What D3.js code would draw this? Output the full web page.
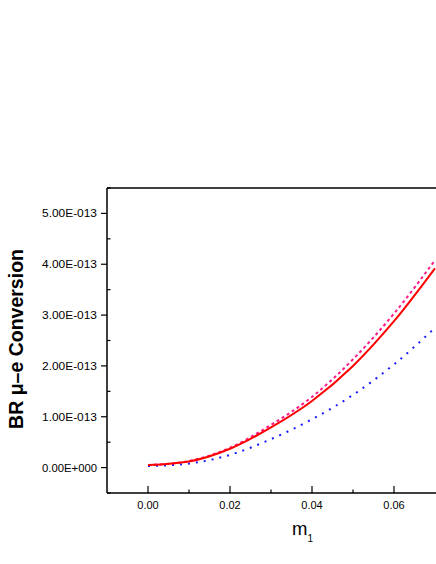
<!DOCTYPE html>
<html><head><meta charset="utf-8">
<script src="https://cdn.jsdelivr.net/npm/d3@7"></script>
<style>body{margin:0;background:#fff}svg{display:block}text{font-family:"Liberation Sans",Arial,sans-serif}</style>
</head><body><svg id="c" width="436" height="564"></svg>
<script>
const mValues = [0.00, 0.01, 0.02, 0.03, 0.04, 0.05, 0.06, 0.07];
const redSolid = [0.05, 0.12, 0.37, 0.79, 1.31, 2.00, 2.88, 3.92];   // x1e-13
const pinkDash = [0.05, 0.13, 0.39, 0.84, 1.39, 2.13, 3.03, 4.08];
const blueDot  = [0.03, 0.08, 0.25, 0.56, 0.95, 1.43, 2.03, 2.75];
const xTicks = [0.00, 0.02, 0.04, 0.06];
const xMinor = [0.01, 0.03, 0.05];
const yTicks = [0, 1, 2, 3, 4, 5];
const yTickLabels = ["0.00E+000","1.00E-013","2.00E-013","3.00E-013","4.00E-013","5.00E-013"];
const yMinor = [-0.5, 0.5, 1.5, 2.5, 3.5, 4.5, 5.5];

const svg = d3.select("#c");
const L = 107, T = 188, B = 493;
const x = d3.scaleLinear().domain([-0.01, 0.08]).range([L, L + 4100 * 0.09]);
const y = d3.scaleLinear().domain([-0.5, 5.5]).range([B, T]);

const g = svg.append("g");
svg.append("clipPath").attr("id","cp").append("rect").attr("x",L).attr("y",T).attr("width",436-L).attr("height",B-T);
const line = d3.line().x((d,i)=>x(mValues[i])).y(d=>y(d)).curve(d3.curveMonotoneX);
const series = [
  {v: blueDot, c: "#1a1aff", dash: "2,6", w: 2},
  {v: pinkDash, c: "#ff1a8c", dash: "3,3", w: 2},
  {v: redSolid, c: "#ff0000", dash: null, w: 2}
];
series.forEach(s=>{
  g.append("path").attr("d", line(s.v)).attr("fill","none").attr("stroke",s.c)
   .attr("stroke-width",s.w).attr("stroke-dasharray",s.dash).attr("clip-path","url(#cp)");
});

// frame
svg.append("line").attr("x1",L).attr("x2",436).attr("y1",T).attr("y2",T).attr("stroke","#000").attr("stroke-width",1.5);
svg.append("line").attr("x1",L).attr("x2",L).attr("y1",T).attr("y2",B).attr("stroke","#000").attr("stroke-width",1.5);
svg.append("line").attr("x1",L).attr("x2",436).attr("y1",B).attr("y2",B).attr("stroke","#000").attr("stroke-width",1.5);

// x ticks (inward)
xTicks.forEach(t=>{
  svg.append("line").attr("x1",x(t)).attr("x2",x(t)).attr("y1",B).attr("y2",B-7).attr("stroke","#000").attr("stroke-width",1.2);
  svg.append("text").attr("x",x(t)).attr("y",509).attr("text-anchor","middle").attr("font-size","11px").text(d3.format(".2f")(t));
});
xMinor.forEach(t=>{
  svg.append("line").attr("x1",x(t)).attr("x2",x(t)).attr("y1",B).attr("y2",B-3.5).attr("stroke","#000").attr("stroke-width",1.2);
});
// y ticks
yTicks.forEach((t,i)=>{
  svg.append("line").attr("x1",L).attr("x2",L-6).attr("y1",y(t)).attr("y2",y(t)).attr("stroke","#000").attr("stroke-width",1.2);
  svg.append("text").attr("x",97).attr("y",y(t)+4).attr("text-anchor","end").attr("font-size","11px")
    .attr("textLength",55).attr("lengthAdjust","spacingAndGlyphs").text(yTickLabels[i]);
});
yMinor.forEach(t=>{
  svg.append("line").attr("x1",L).attr("x2",L+3.5).attr("y1",y(t)).attr("y2",y(t)).attr("stroke","#000").attr("stroke-width",1.2);
});

// axis titles
const xt = svg.append("text").attr("x",292).attr("y",535).attr("font-size","18.5px");
xt.append("tspan").text("m");
xt.append("tspan").attr("font-size","10px").attr("dy",7).text("1");

svg.append("text").attr("transform","translate(23,339) rotate(-90)").attr("text-anchor","middle")
  .attr("font-size","19.5px").attr("font-weight","bold").text("BR \u03bc\u2013e Conversion");
</script></body></html>
